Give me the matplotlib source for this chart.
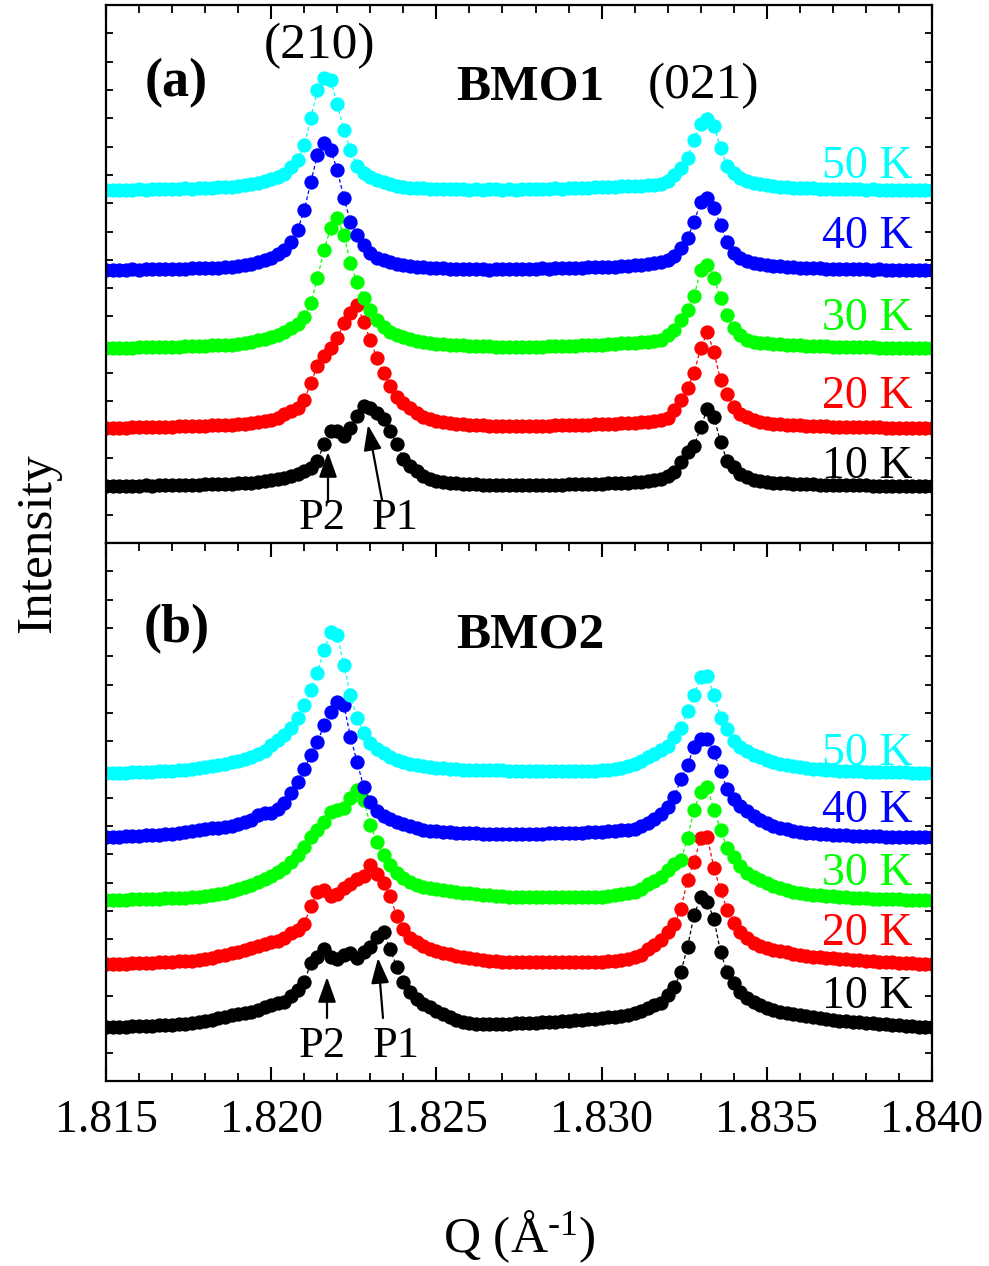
import numpy as np
import matplotlib
matplotlib.use("Agg")
import matplotlib.pyplot as plt
from matplotlib.ticker import MultipleLocator

plt.rcParams['font.family'] = ['Liberation Serif', 'DejaVu Serif']
plt.rcParams['mathtext.fontset'] = 'custom'
plt.rcParams['mathtext.rm'] = 'Liberation Serif'
plt.rcParams['mathtext.it'] = 'Liberation Serif:italic'
plt.rcParams['mathtext.bf'] = 'Liberation Serif:bold'

# ---------------- data ----------------
Q_START = 1.815
Q_STEP = 0.0002
N_POINTS = 126
q = Q_START + Q_STEP * np.arange(N_POINTS)

temps = ['10 K', '20 K', '30 K', '40 K', '50 K']
colors = ['#000000', '#ff0000', '#00ff00', '#0000ff', '#00ffff']

# vertical offsets of the stacked curves (arb. units)
offsets_bmo1 = [57, 115, 195, 273, 353]
offsets_bmo2 = [54, 117, 181, 244, 308]

# BMO1 intensities (arb. units, above each curve's baseline)
bmo1_10K = [0,0,0,0,0,0,1,0,1,1,
            1,1,1,1,1,2,2,2,2,2,
            3,3,3,4,5,6,7,8,10,12,
            15,18,25,42,55,55,50,58,70,80,
            78,73,67,55,42,27,20,15,10,7,
            5,4,3,3,2,2,2,1,1,1,
            1,1,1,1,1,1,1,1,1,1,
            2,2,2,2,2,2,3,3,3,3,
            4,4,5,6,7,10,14,24,34,40,
            59,77,69,44,25,19,12,9,6,5,
            4,3,3,3,2,2,2,2,1,1,
            1,1,1,1,1,1,0,0,0,0,
            0,0,0,0,0,0]
bmo1_20K = [0,0,0,0,1,1,1,1,1,1,
            1,2,2,2,2,2,3,3,3,3,
            4,4,5,6,7,8,10,14,17,20,
            28,45,62,72,80,90,105,115,123,106,
            88,70,55,42,31,25,20,15,11,9,
            7,6,5,4,4,3,3,3,2,2,
            2,2,2,2,2,2,2,2,3,3,
            3,3,3,3,4,4,4,4,5,5,
            5,6,6,7,8,10,18,28,40,55,
            80,96,76,48,34,21,14,11,8,6,
            5,4,4,3,3,3,2,2,2,2,
            1,1,1,1,1,1,1,1,0,0,
            0,0,0,0,0,0]
bmo1_30K = [0,0,0,0,0,1,1,1,1,1,
            1,1,2,2,2,2,3,3,3,3,
            4,5,6,8,9,11,13,16,20,24,
            31,45,70,98,120,130,113,85,66,50,
            38,28,21,16,13,11,9,7,6,5,
            4,4,3,3,3,2,2,2,2,1,
            1,1,1,1,1,1,1,2,2,2,
            2,2,3,3,3,3,4,4,5,5,
            5,6,6,7,8,13,18,28,38,52,
            78,83,70,50,33,20,13,8,6,5,
            5,4,4,3,3,3,2,2,2,2,
            1,1,1,1,1,1,1,0,0,0,
            0,0,0,0,0,0]
bmo1_40K = [0,0,0,0,1,0,1,1,1,1,
            1,1,1,2,2,2,2,2,3,3,
            4,5,6,8,10,12,16,20,28,40,
            60,88,115,127,120,100,72,48,35,25,
            17,12,10,8,6,5,4,3,3,2,
            2,2,1,1,1,1,1,1,0,1,
            1,1,1,1,1,1,2,1,2,2,
            2,2,2,3,3,3,3,3,4,4,
            5,5,6,7,8,10,14,22,32,48,
            68,72,62,45,28,17,12,9,7,6,
            5,4,4,3,3,2,2,2,2,1,
            1,1,1,1,1,1,0,1,0,0,
            0,0,0,0,0,0]
bmo1_50K = [0,0,0,0,0,1,0,1,1,1,
            1,1,2,1,2,2,2,3,3,3,
            4,5,6,7,9,11,13,16,23,30,
            45,72,100,112,110,86,60,40,24,17,
            13,10,8,6,4,3,2,2,2,1,
            1,1,1,1,1,0,1,0,1,1,
            0,1,0,1,1,1,1,1,2,1,
            2,2,2,2,3,3,3,3,4,4,
            4,4,5,5,6,9,15,22,32,50,
            66,71,64,42,24,17,12,9,7,6,
            5,4,3,3,2,2,2,2,1,1,
            1,1,1,1,1,0,1,0,0,0,
            0,0,0,0,0,0]

# BMO2 intensities
bmo2_10K = [0,0,0,0,1,1,1,1,2,2,
            2,3,3,4,5,6,7,9,10,12,
            13,14,15,17,20,22,24,25,31,37,
            45,64,70,78,70,68,72,74,69,75,
            80,90,95,78,60,45,35,28,23,20,
            16,13,10,7,5,4,3,3,3,3,
            3,3,4,4,4,4,5,5,5,6,
            6,7,7,8,8,9,10,10,11,12,
            14,16,19,22,24,32,40,55,80,112,
            130,125,108,75,55,44,35,29,25,22,
            19,17,15,14,13,12,11,10,9,8,
            7,6,6,5,5,4,4,3,3,2,
            2,1,1,0,0,0]
bmo2_20K = [0,0,0,0,1,1,1,1,2,2,
            2,3,3,3,4,5,6,8,9,11,
            12,14,16,18,20,22,23,26,31,34,
            40,58,72,74,68,70,76,80,85,88,
            99,90,81,68,48,35,26,22,18,15,
            13,11,10,8,7,6,5,4,3,3,
            2,2,2,2,2,2,2,2,2,2,
            2,2,2,2,2,2,3,3,4,5,
            7,9,15,19,24,32,40,55,84,102,
            126,127,96,74,54,41,32,26,21,18,
            16,14,13,12,10,9,8,7,7,6,
            6,5,5,4,4,3,3,2,2,2,
            1,1,1,0,0,0]
bmo2_30K = [0,0,0,0,1,1,1,1,1,2,
            2,2,2,3,3,4,5,6,7,9,
            11,13,15,18,21,24,28,32,38,45,
            53,63,70,78,88,90,92,102,110,100,
            75,58,45,35,27,22,18,15,13,12,
            11,10,9,8,7,7,6,5,5,4,
            4,3,3,3,3,3,3,3,3,3,
            3,3,3,3,3,3,4,5,6,7,
            8,11,16,19,23,30,36,40,62,90,
            108,113,90,70,52,43,34,27,23,20,
            17,14,12,10,8,7,6,5,5,4,
            4,3,3,2,2,2,1,1,1,1,
            1,0,0,0,0,0]
bmo2_40K = [0,0,0,1,1,1,2,2,2,3,
            3,4,5,6,7,8,9,9,10,11,
            13,15,17,22,24,24,28,34,44,55,
            68,82,95,112,125,135,132,100,75,50,
            35,26,21,18,15,13,11,9,7,6,
            6,5,5,4,4,4,4,3,3,3,
            3,3,3,3,3,3,3,4,4,4,
            4,4,4,5,5,5,6,6,7,7,
            8,11,14,18,23,30,40,58,72,90,
            98,98,85,66,48,38,31,26,21,17,
            14,11,9,8,6,5,4,4,3,3,
            2,2,2,1,1,1,1,1,0,0,
            0,0,0,0,0,0]
bmo2_50K = [0,0,0,0,1,1,1,1,2,2,
            2,3,3,4,5,6,7,8,9,11,
            12,14,16,19,22,28,33,38,45,55,
            68,83,100,123,141,138,108,78,55,40,
            30,24,20,16,13,11,9,8,7,6,
            5,5,4,4,3,3,3,3,3,3,
            3,2,2,2,2,2,2,2,2,2,
            2,2,2,2,2,3,3,4,5,7,
            9,12,16,19,23,27,36,45,62,78,
            96,97,78,55,44,32,26,22,18,16,
            13,11,9,8,7,6,5,4,4,3,
            3,2,2,2,2,1,1,1,1,1,
            1,1,0,0,0,0]

bmo1_curves = [bmo1_10K, bmo1_20K, bmo1_30K, bmo1_40K, bmo1_50K]
bmo2_curves = [bmo2_10K, bmo2_20K, bmo2_30K, bmo2_40K, bmo2_50K]

W, H = 989, 1266


def fx(px):
    return px / W


def fy(py):
    return 1 - py / H


fig = plt.figure(figsize=(W / 100, H / 100), dpi=100)
L, R = 106, 932
ax_a = fig.add_axes([fx(L), fy(543), fx(R) - fx(L), fy(5) - fy(543)])
ax_b = fig.add_axes([fx(L), fy(1081), fx(R) - fx(L), fy(543) - fy(1081)])

for ax, offs, curves in [(ax_a, offsets_bmo1, bmo1_curves),
                         (ax_b, offsets_bmo2, bmo2_curves)]:
    for k in range(5):
        y = np.asarray(curves[k], dtype=float) + offs[k]
        ax.plot(q, y, linestyle=(0, (3, 2)), lw=0.9, color=colors[k],
                marker='o', ms=10.3, mfc=colors[k], mec=colors[k], mew=0)
    ax.set_xlim(1.815, 1.840)
    ax.set_ylim(0, 538)
    ax.xaxis.set_major_locator(MultipleLocator(0.005))
    ax.xaxis.set_minor_locator(MultipleLocator(0.001))
    ax.yaxis.set_major_locator(MultipleLocator(538 / 19))
    ax.tick_params(axis='y', which='both', direction='in', left=True, right=True,
                   labelleft=False, length=5, width=1.3)
    ax.tick_params(axis='x', which='major', direction='in', top=True,
                   length=10, width=1.5)
    ax.tick_params(axis='x', which='minor', direction='in', top=True,
                   length=6, width=1.3)
    for s in ax.spines.values():
        s.set_linewidth(1.6)

ax_a.tick_params(axis='x', which='both', bottom=False, labelbottom=False)
ax_b.tick_params(axis='x', which='major', labelsize=33, pad=13)
ax_b.xaxis.set_major_formatter(plt.FuncFormatter(lambda v, p: f"{v:.3f}"))

# axis titles
fig.text(fx(519), fy(1237), 'Q (Å$^{\u2010\\mathrm{1}}$)', ha='center', va='center', fontsize=37)
fig.text(fx(38), fy(543), 'Intensity', rotation=90, ha='center', va='center', fontsize=37)

# panel annotations
fig.text(fx(176), fy(96), '(a)', ha='center', va='baseline', fontsize=39, fontweight='bold')
fig.text(fx(530), fy(100), 'BMO1', ha='center', va='baseline', fontsize=37, fontweight='bold')
fig.text(fx(320), fy(58), '(210)', ha='center', va='baseline', fontsize=37)
fig.text(fx(703), fy(98), '(021)', ha='center', va='baseline', fontsize=37)
fig.text(fx(177), fy(642), '(b)', ha='center', va='baseline', fontsize=39, fontweight='bold')
fig.text(fx(530), fy(648), 'BMO2', ha='center', va='baseline', fontsize=37, fontweight='bold')

label_rows_a = [478, 408, 330, 248, 178]
label_rows_b = [1008, 945, 885, 822, 765]
for k in range(5):
    fig.text(fx(913), fy(label_rows_a[k]), temps[k], ha='right', va='baseline',
             fontsize=33, color=colors[k])
    fig.text(fx(913), fy(label_rows_b[k]), temps[k], ha='right', va='baseline',
             fontsize=33, color=colors[k])

# P1 / P2 markers
arrow = dict(arrowstyle='-|>,head_length=0.7,head_width=0.25', color='k', lw=1.6,
             mutation_scale=22, shrinkA=0, shrinkB=0)
for (tx, ty, hx, hy, lab, lx, ly) in [
        (328, 502, 328, 452, 'P2', 322, 529),
        (382, 500, 368, 425, 'P1', 395, 529),
        (327, 1018, 327, 977, 'P2', 322, 1057),
        (383, 1018, 378, 958, 'P1', 396, 1057)]:
    fig.add_artist(matplotlib.patches.FancyArrowPatch(
        (fx(tx), fy(ty)), (fx(hx), fy(hy)), transform=fig.transFigure, **arrow))
    fig.text(fx(lx), fy(ly), lab, ha='center', va='baseline', fontsize=32)

fig.savefig('out.png', dpi=100)
